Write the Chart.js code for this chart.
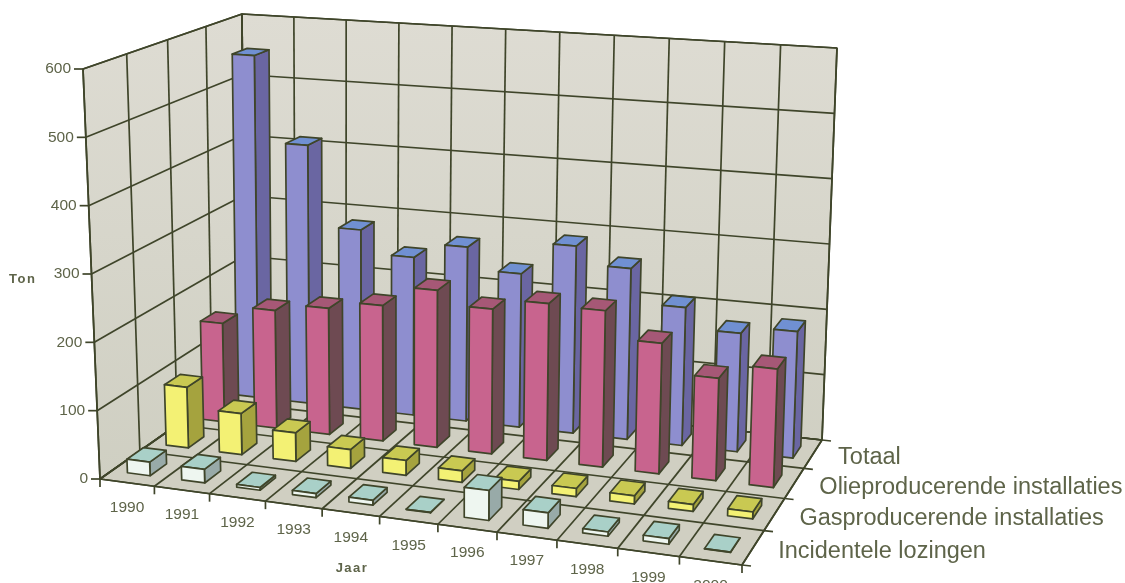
<!DOCTYPE html>
<html>
<head>
<meta charset="utf-8">
<style>
  html, body { margin: 0; padding: 0; background: #fff; }
  #wrap { width: 1125px; height: 583px; }
  canvas { filter: blur(0.45px); }
</style>
<script src="https://cdn.jsdelivr.net/npm/chart.js@4/dist/chart.umd.js"></script>
</head>
<body>
<div id="wrap"><canvas id="myChart" width="1125" height="583"></canvas></div>
<script>
const years = ["1990", "1991", "1992", "1993", "1994", "1995", "1996", "1997", "1998", "1999", "2000"];
const seriesNames = ["Incidentele lozingen", "Gasproducerende installaties", "Olieproducerende installaties", "Totaal"];
const valueTicks = [0, 100, 200, 300, 400, 500, 600];

const incidentele = [20, 20, 4, 6, 7, 0.5, 43, 22, 6, 8, 0.5];
const gas = [92, 62, 43, 28, 22, 17, 12, 12, 12, 10, 10];
const olie = [154, 183, 195, 208, 240, 220, 237, 235, 195, 152, 175];
const totaal = [551, 413, 285, 249, 273, 239, 290, 263, 211, 180, 191];

// faces: front, side, top
const colors = [
  ["#eef6f0", "#98aaa8", "#a9d0c8"],
  ["#f3f174", "#a5a33e", "#c9c952"],
  ["#c8648e", "#6e4a52", "#a65876"],
  ["#8e8ecf", "#6a66a2", "#7090d2"],
];
const lineColor = "#3f452a";
const textColor = "#5e6449";

// corners of the box on the page (floor and top), front-left, front-right, back-right, back-left
const floorCorners = [[100, 479], [742, 565], [822, 440], [245, 377]];
const topCorners = [[83, 69], [755, 135], [837, 48], [242, 14]];

// foreshortening along the year axis (front, back) and the depth axis
const kFront = 1.08, kBack = 1.047, kDepth = 0.88;
const warp = (t, k) => t / (t + k * (1 - t));

function onQuad(q, u, w) {
  const tw = warp(w, kDepth);
  const tu = warp(u, kFront + (kBack - kFront) * tw);
  const fx = q[0][0] + (q[1][0] - q[0][0]) * tu, fy = q[0][1] + (q[1][1] - q[0][1]) * tu;
  const bx = q[3][0] + (q[2][0] - q[3][0]) * tu, by = q[3][1] + (q[2][1] - q[3][1]) * tu;
  return [fx + (bx - fx) * tw, fy + (by - fy) * tw];
}

function pt(u, w, h) {
  const f = onQuad(floorCorners, u, w);
  const t = onQuad(topCorners, u, w);
  return [f[0] + (t[0] - f[0]) * h, f[1] + (t[1] - f[1]) * h];
}

function poly(ctx, pts, fill) {
  ctx.beginPath();
  ctx.moveTo(pts[0][0], pts[0][1]);
  for (let i = 1; i < pts.length; i++) ctx.lineTo(pts[i][0], pts[i][1]);
  ctx.closePath();
  if (fill) {
    ctx.fillStyle = fill;
    ctx.fill();
  }
  ctx.stroke();
}

function seg(ctx, a, b) {
  ctx.beginPath();
  ctx.moveTo(a[0], a[1]);
  ctx.lineTo(b[0], b[1]);
  ctx.stroke();
}

const box3d = {
  id: "box3d",
  beforeDatasetsDraw(chart) {
    const ctx = chart.ctx;
    const xs = chart.scales.x;
    const ys = chart.scales.y;
    const zs = chart.scales.xDepth;
    const U = (i) => (xs.getPixelForValue(i) - xs.left) / xs.width;
    const W = (s) => (zs.getPixelForValue(s) - zs.left) / zs.width;
    const H = (v) => (ys.bottom - ys.getPixelForValue(v)) / ys.height;
    const uCell = 1 / years.length;
    const wCell = 1 / seriesNames.length;

    ctx.save();
    ctx.lineJoin = "round";
    ctx.strokeStyle = lineColor;
    ctx.lineWidth = 1.7;

    // walls and floor
    const wall = ctx.createLinearGradient(0, 14, 0, 480);
    wall.addColorStop(0, "#dedcd3");
    wall.addColorStop(1, "#cfcfc2");
    poly(ctx, [pt(0, 0, 0), pt(0, 1, 0), pt(0, 1, 1), pt(0, 0, 1)], wall);
    poly(ctx, [pt(0, 1, 0), pt(1, 1, 0), pt(1, 1, 1), pt(0, 1, 1)], wall);
    poly(ctx, [pt(0, 0, 0), pt(1, 0, 0), pt(1, 1, 0), pt(0, 1, 0)], "#d0cfc2");

    // grid, from the scales
    for (let k = 0; k <= years.length; k++) {
      const u = k * uCell;
      seg(ctx, pt(u, 0, 0), pt(u, 1, 0));
      seg(ctx, pt(u, 1, 0), pt(u, 1, 1));
      const a = pt(u, 0, 0);
      seg(ctx, a, [a[0], a[1] + 8]);
    }
    for (let k = 0; k <= seriesNames.length; k++) {
      const w = k * wCell;
      seg(ctx, pt(0, w, 0), pt(1, w, 0));
      seg(ctx, pt(0, w, 0), pt(0, w, 1));
      const a = pt(1, w, 0);
      seg(ctx, a, [a[0] + 9, a[1] + 1]);
    }
    ys.ticks.forEach((t) => {
      const h = H(t.value);
      seg(ctx, pt(0, 0, h), pt(0, 1, h));
      seg(ctx, pt(0, 1, h), pt(1, 1, h));
      const a = pt(0, 0, h);
      seg(ctx, a, [a[0] - 9, a[1]]);
    });

    // bars, back row first
    const halfU = uCell * 0.21;
    const halfW = wCell * 0.21;
    for (let s = chart.data.datasets.length - 1; s >= 0; s--) {
      const data = chart.data.datasets[s].data;
      const c = colors[s];
      for (let i = 0; i < data.length; i++) {
        const h = H(data[i]);
        const u0 = U(i) - halfU, u1 = U(i) + halfU;
        const w0 = W(s) - halfW, w1 = W(s) + halfW;
        poly(ctx, [pt(u1, w0, 0), pt(u1, w1, 0), pt(u1, w1, h), pt(u1, w0, h)], c[1]);
        poly(ctx, [pt(u0, w0, h), pt(u1, w0, h), pt(u1, w1, h), pt(u0, w1, h)], c[2]);
        poly(ctx, [pt(u0, w0, 0), pt(u1, w0, 0), pt(u1, w0, h), pt(u0, w0, h)], c[0]);
      }
    }

    // text
    ctx.fillStyle = textColor;
    ctx.font = "15.5px 'Liberation Sans'";
    ctx.textBaseline = "middle";
    ctx.textAlign = "right";
    ys.ticks.forEach((t) => {
      const a = pt(0, 0, H(t.value));
      ctx.fillText(t.label, a[0] - 12, a[1]);
    });
    ctx.textAlign = "center";
    years.forEach((y, i) => {
      const a = pt(U(i), 0, 0);
      ctx.fillText(y, a[0], a[1] + 25);
    });
    ctx.font = "bold 13px 'Liberation Sans'";
    ctx.letterSpacing = "1.5px";
    ctx.fillText("Jaar", 352, 568);
    ctx.textAlign = "left";
    ctx.fillText("Ton", 9, 279);
    ctx.letterSpacing = "0px";
    ctx.font = "23.5px 'Liberation Sans'";
    seriesNames.forEach((name, s) => {
      const a = pt(1, W(s), 0);
      ctx.fillText(name, a[0] + 25, a[1] + 4);
    });
    ctx.restore();
    return false;
  },
};

new Chart(document.getElementById("myChart"), {
  type: "bar",
  data: {
    labels: years,
    datasets: [
      { label: seriesNames[0], data: incidentele },
      { label: seriesNames[1], data: gas },
      { label: seriesNames[2], data: olie },
      { label: seriesNames[3], data: totaal },
    ],
  },
  options: {
    responsive: false,
    animation: false,
    events: [],
    plugins: { legend: { display: false }, tooltip: { enabled: false } },
    scales: {
      x: { display: false },
      xDepth: { type: "category", labels: seriesNames, display: false },
      y: {
        display: false,
        min: 0,
        max: 600,
        afterBuildTicks: (axis) => {
          axis.ticks = valueTicks.map((v) => ({ value: v, label: String(v) }));
        },
      },
    },
  },
  plugins: [box3d],
});
</script>
</body>
</html>
